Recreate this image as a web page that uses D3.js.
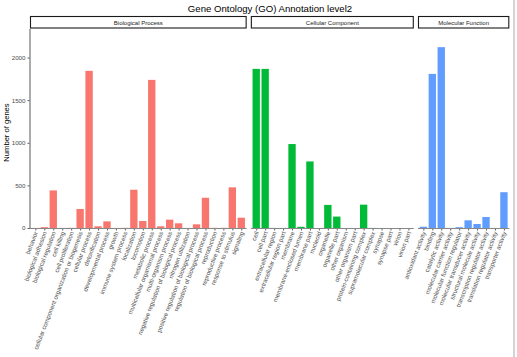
<!DOCTYPE html>
<html><head><meta charset="utf-8">
<script src="https://cdn.jsdelivr.net/npm/d3@7"></script>
<style>body{margin:0;background:#fff}svg{display:block;font-family:"Liberation Sans",Arial,sans-serif}</style>
</head><body><svg id="c" width="517" height="357"></svg>
<script>
const title = "Gene Ontology (GO) Annotation level2";
const yLabel = "Number of genes";
const yTicks = [0, 500, 1000, 1500, 2000];
const panelNames = ["Biological Process", "Cellular Component", "Molecular Function"];
const panelColors = ["#F8766D", "#00BA38", "#619CFF"];

const bpCats = ["behavior","biological adhesion","biological regulation","cell killing","cell proliferation","cellular component organization or biogenesis","cellular process","detoxification","developmental process","growth","immune system process","localization","locomotion","metabolic process","multicellular organismal process","multi-organism process","negative regulation of biological process","nitrogen utilization","positive regulation of biological process","regulation of biological process","reproduction","reproductive process","response to stimulus","signaling"];
const bpVals = [1, 10, 441, 1, 2, 223, 1844, 20, 78, 1, 2, 449, 82, 1738, 20, 98, 55, 1, 43, 355, 2, 2, 477, 121];

const ccCats = ["cell","cell part","extracellular region","extracellular region part","membrane","membrane-enclosed lumen","membrane part","nucleoid","organelle","organelle part","other organism","other organism part","protein-containing complex","supramolecular complex","synapse","synapse part","virion","virion part"];
const ccVals = [1867, 1867, 1, 1, 985, 14, 781, 0, 271, 134, 0, 0, 274, 1, 0, 0, 0, 0];

const mfCats = ["antioxidant activity","binding","catalytic activity","molecular carrier activity","molecular function regulator","molecular transducer activity","structural molecule activity","transcription regulator activity","translation regulator activity","transporter activity"];
const mfVals = [15, 1808, 2122, 1, 10, 90, 47, 129, 1, 420];

const panels = [
  {name: panelNames[0], cats: bpCats, vals: bpVals, color: panelColors[0]},
  {name: panelNames[1], cats: ccCats, vals: ccVals, color: panelColors[1]},
  {name: panelNames[2], cats: mfCats, vals: mfVals, color: panelColors[2]}
];

const svg = d3.select("#c");
const L = 30, R = 509.3, gap = 4.2, pTop = 29, pBottom = 228;
const pad = 0.6;
const units = panels.map(p => p.cats.length - 1 + 2 * pad);
const totU = d3.sum(units);
const unitW = (R - L - gap * (panels.length - 1)) / totU;

const y = d3.scaleLinear().domain([0, 2335]).range([pBottom, pTop]);

// right border artifact
svg.append("line").attr("x1", 514).attr("x2", 514).attr("y1", 0).attr("y2", 357)
  .attr("stroke", "#d4d4d4").attr("stroke-width", 2);

// title
svg.append("text").attr("x", 270).attr("y", 11.5).attr("text-anchor", "middle")
  .attr("font-size", 9.6).attr("fill", "#000").text(title);

// y axis
const yAxis = d3.axisLeft(y).tickValues(yTicks).tickFormat(d3.format("d")).tickSize(2.5).tickPadding(2);
const ya = svg.append("g").attr("transform", `translate(${L},0)`).call(yAxis);
ya.select(".domain").remove();
ya.selectAll(".tick line").attr("stroke", "#333").attr("stroke-width", 0.8);
ya.selectAll(".tick text").attr("font-size", 6.2).attr("fill", "#4d4d4d").attr("font-family", "Liberation Sans, Arial, sans-serif");
svg.append("line").attr("x1", L).attr("x2", L).attr("y1", pTop).attr("y2", pBottom + 0.5)
  .attr("stroke", "#888").attr("stroke-width", 1.4);

svg.append("text").attr("transform", `translate(8.5,${(pTop + pBottom) / 2 + 4}) rotate(-90)`)
  .attr("text-anchor", "middle").attr("font-size", 7.6).attr("fill", "#000").text(yLabel);

let x0 = L;
panels.forEach((p, i) => {
  const w = units[i] * unitW;
  const x1 = x0 + w;
  const x = d3.scalePoint().domain(p.cats).range([x0, x1]).padding(pad);
  const bw = x.step() * 0.82;

  // strip
  svg.append("rect").attr("x", x0 + 0.5).attr("y", 16.5).attr("width", w - 1).attr("height", 11.5)
    .attr("fill", "#fff").attr("stroke", "#1a1a1a").attr("stroke-width", 1.1);
  svg.append("text").attr("x", (x0 + x1) / 2).attr("y", 24.5).attr("text-anchor", "middle")
    .attr("font-size", 6).attr("fill", "#1a1a1a").text(p.name);

  // bars
  svg.append("g").selectAll("rect").data(p.cats).join("rect")
    .attr("x", d => x(d) - bw / 2)
    .attr("width", bw)
    .attr("y", (d, j) => y(p.vals[j]))
    .attr("height", (d, j) => pBottom - y(p.vals[j]))
    .attr("fill", p.color);

  // x axis
  const xa = svg.append("g").attr("transform", `translate(0,${pBottom})`)
    .call(d3.axisBottom(x).tickSize(2.5).tickPadding(2));
  xa.select(".domain").remove();
  xa.selectAll(".tick line").attr("stroke", "#333").attr("stroke-width", 0.8);
  xa.selectAll(".tick text")
    .attr("font-size", 6.2).attr("fill", "#4d4d4d").attr("font-family", "Liberation Sans, Arial, sans-serif")
    .attr("text-anchor", "end").attr("dy", null).attr("y", 0)
    .attr("transform", "translate(2.2,4.5) rotate(-69)");
  svg.append("line").attr("x1", x0).attr("x2", x1).attr("y1", pBottom + 0.5).attr("y2", pBottom + 0.5)
    .attr("stroke", "#888").attr("stroke-width", 1.2);

  x0 = x1 + gap;
});
</script></body></html>
